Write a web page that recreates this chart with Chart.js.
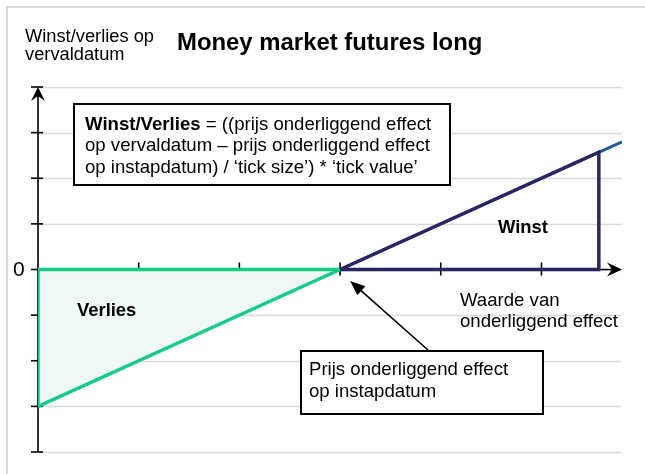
<!DOCTYPE html>
<html>
<head>
<meta charset="utf-8">
<script src="https://cdn.jsdelivr.net/npm/chart.js@4/dist/chart.umd.min.js"></script>
<style>
html,body{margin:0;padding:0;background:#fff;}
#wrap{position:relative;width:645px;height:474px;}
</style>
</head>
<body>
<div id="wrap"><canvas id="c" width="645" height="474"></canvas></div>
<script>
// ---- data ----
const lossDiagX = [0, 3];
const lossDiagY = [-3, 0];
const lossEdgeX = [3, 0, 0];
const lossEdgeY = [0, 0, -3];
const payoffX = [3, 5.8];
const payoffY = [0, 2.8];
const profitX = [3, 5.57, 5.57, 3];
const profitY = [0, 2.57, 0, 0];
const yTicks = [-4, -3, -2, -1, 0, 1, 2, 3, 4];
const xTicks = [1, 2, 3, 4, 5];
const calloutPoint = {x: 3.1, y: -0.25};

const yLabel = ['Winst/verlies op', 'vervaldatum'];
const titleText = 'Money market futures long';
const formulaLines = [
  [['Winst/Verlies', true], [' = ((prijs onderliggend effect', false]],
  [['op vervaldatum \u2013 prijs onderliggend effect', false]],
  [['op instapdatum) / \u2018tick size\u2019) * \u2018tick value\u2019', false]]
];
const xLabel = ['Waarde van', 'onderliggend effect'];
const calloutLines = ['Prijs onderliggend effect', 'op instapdatum'];

const pts = (xs, ys) => xs.map((x, i) => ({x: x, y: ys[i]}));
const FONT = '"Liberation Sans", Arial, sans-serif';

const decor = {
  id: 'decor',
  beforeDatasetsDraw(chart) {
    const ctx = chart.ctx, xs = chart.scales.x, ys = chart.scales.y;
    const x0 = xs.getPixelForValue(0), y0 = ys.getPixelForValue(0);
    const xr = xs.right;
    ctx.save();
    // outer frame
    ctx.strokeStyle = '#d9d9d9'; ctx.lineWidth = 2;
    ctx.beginPath(); ctx.moveTo(7, 480); ctx.lineTo(7, 7); ctx.lineTo(650, 7); ctx.stroke();
    // grid lines
    ctx.lineWidth = 1.5; ctx.strokeStyle = '#d9d9d9';
    yTicks.forEach(v => {
      const y = Math.round(ys.getPixelForValue(v)) + 0.5;
      ctx.beginPath(); ctx.moveTo(x0, y); ctx.lineTo(xr, y); ctx.stroke();
    });
    // axes
    ctx.strokeStyle = '#000'; ctx.lineWidth = 1.6;
    ctx.beginPath();
    ctx.moveTo(x0, ys.getPixelForValue(-4)); ctx.lineTo(x0, ys.getPixelForValue(4) + 6);
    ctx.moveTo(x0, y0); ctx.lineTo(xr - 8, y0);
    ctx.stroke();
    // y ticks
    yTicks.forEach(v => {
      const y = ys.getPixelForValue(v);
      ctx.beginPath(); ctx.moveTo(x0 - 7, y); ctx.lineTo(x0 + (v === 0 ? 0 : 5), y); ctx.stroke();
    });
    // x ticks
    xTicks.forEach(v => {
      const x = xs.getPixelForValue(v);
      ctx.beginPath(); ctx.moveTo(x, y0 - 7); ctx.lineTo(x, y0 + 6); ctx.stroke();
    });
    ctx.restore();
  },
  afterDatasetsDraw(chart) {
    const ctx = chart.ctx, xs = chart.scales.x, ys = chart.scales.y;
    const x0 = xs.getPixelForValue(0), y0 = ys.getPixelForValue(0);
    const yt = ys.getPixelForValue(4), xr = xs.right;
    ctx.save();
    ctx.fillStyle = '#000';
    // y arrow
    ctx.beginPath();
    ctx.moveTo(x0, yt); ctx.lineTo(x0 + 7, yt + 14); ctx.lineTo(x0, yt + 9); ctx.lineTo(x0 - 7, yt + 14); ctx.closePath(); ctx.fill();
    // x arrow
    ctx.beginPath();
    ctx.moveTo(xr, y0); ctx.lineTo(xr - 15, y0 - 7); ctx.lineTo(xr - 10, y0); ctx.lineTo(xr - 15, y0 + 7); ctx.closePath(); ctx.fill();

    // text
    ctx.textBaseline = 'alphabetic'; ctx.textAlign = 'left';
    ctx.font = '18.3px ' + FONT;
    ctx.fillText(yLabel[0], 25, 42);
    ctx.fillText(yLabel[1], 25, 60);
    ctx.font = 'bold 23.9px ' + FONT;
    ctx.fillText(titleText, 177, 50);
    ctx.font = '21px ' + FONT;
    ctx.fillText('0', 13, 276);

    // formula box
    ctx.fillStyle = '#fff'; ctx.fillRect(74, 104, 376, 81);
    ctx.strokeStyle = '#000'; ctx.lineWidth = 2; ctx.strokeRect(74, 104, 376, 81);
    ctx.fillStyle = '#000';
    formulaLines.forEach((line, i) => {
      let x = 85; const y = 130 + i * 21.3;
      line.forEach(([t, b]) => {
        ctx.font = (b ? 'bold ' : '') + '18.6px ' + FONT;
        ctx.fillText(t, x, y); x += ctx.measureText(t).width;
      });
    });

    ctx.font = 'bold 18.4px ' + FONT;
    ctx.fillText('Winst', 498, 233);
    ctx.fillText('Verlies', 77, 316);
    ctx.font = '18.6px ' + FONT;
    ctx.fillText(xLabel[0], 460, 306);
    ctx.fillText(xLabel[1], 460, 327);

    // callout arrow
    const px = xs.getPixelForValue(calloutPoint.x), py = ys.getPixelForValue(calloutPoint.y);
    const sx = 428, sy = 350;
    const ang = Math.atan2(py - sy, px - sx);
    ctx.strokeStyle = '#000'; ctx.lineWidth = 1.6;
    ctx.beginPath(); ctx.moveTo(sx, sy); ctx.lineTo(px - 10 * Math.cos(ang), py - 10 * Math.sin(ang)); ctx.stroke();
    ctx.beginPath();
    ctx.moveTo(px, py);
    ctx.lineTo(px - 15 * Math.cos(ang) + 6 * Math.sin(ang), py - 15 * Math.sin(ang) - 6 * Math.cos(ang));
    ctx.lineTo(px - 15 * Math.cos(ang) - 6 * Math.sin(ang), py - 15 * Math.sin(ang) + 6 * Math.cos(ang));
    ctx.closePath(); ctx.fill();

    // callout box
    ctx.fillStyle = '#fff'; ctx.fillRect(301, 351, 242, 63);
    ctx.strokeStyle = '#000'; ctx.lineWidth = 2; ctx.strokeRect(301, 351, 242, 63);
    ctx.fillStyle = '#000'; ctx.font = '18.6px ' + FONT;
    ctx.fillText(calloutLines[0], 309, 375);
    ctx.fillText(calloutLines[1], 309, 397);
    ctx.restore();
  }
};

new Chart(document.getElementById('c'), {
  type: 'scatter',
  data: {
    datasets: [
      {data: pts(profitX, profitY), showLine: true, borderColor: '#2a2563', borderWidth: 3.5, pointRadius: 0, fill: false, order: 1, borderJoinStyle: 'miter'},
      {data: pts(payoffX, payoffY), showLine: true, borderColor: '#1f5a96', borderWidth: 3, pointRadius: 0, fill: false, order: 2},
      {data: pts(lossEdgeX, lossEdgeY), showLine: true, borderColor: '#14cc85', borderWidth: 3.5, pointRadius: 0, fill: false, order: 3, borderJoinStyle: 'miter'},
      {data: pts(lossDiagX, lossDiagY), showLine: true, borderColor: '#14cc85', borderWidth: 3.5, pointRadius: 0, fill: {value: 0}, backgroundColor: '#eef8f4', order: 4}
    ]
  },
  options: {
    responsive: false,
    animation: false,
    events: [],
    layout: {padding: {left: 38, right: 23, top: 87, bottom: 22}},
    scales: {
      x: {type: 'linear', min: 0, max: 5.8, display: false},
      y: {type: 'linear', min: -4, max: 4, display: false}
    },
    plugins: {legend: {display: false}, tooltip: {enabled: false}, title: {display: false}}
  },
  plugins: [decor]
});
</script>
</body>
</html>
